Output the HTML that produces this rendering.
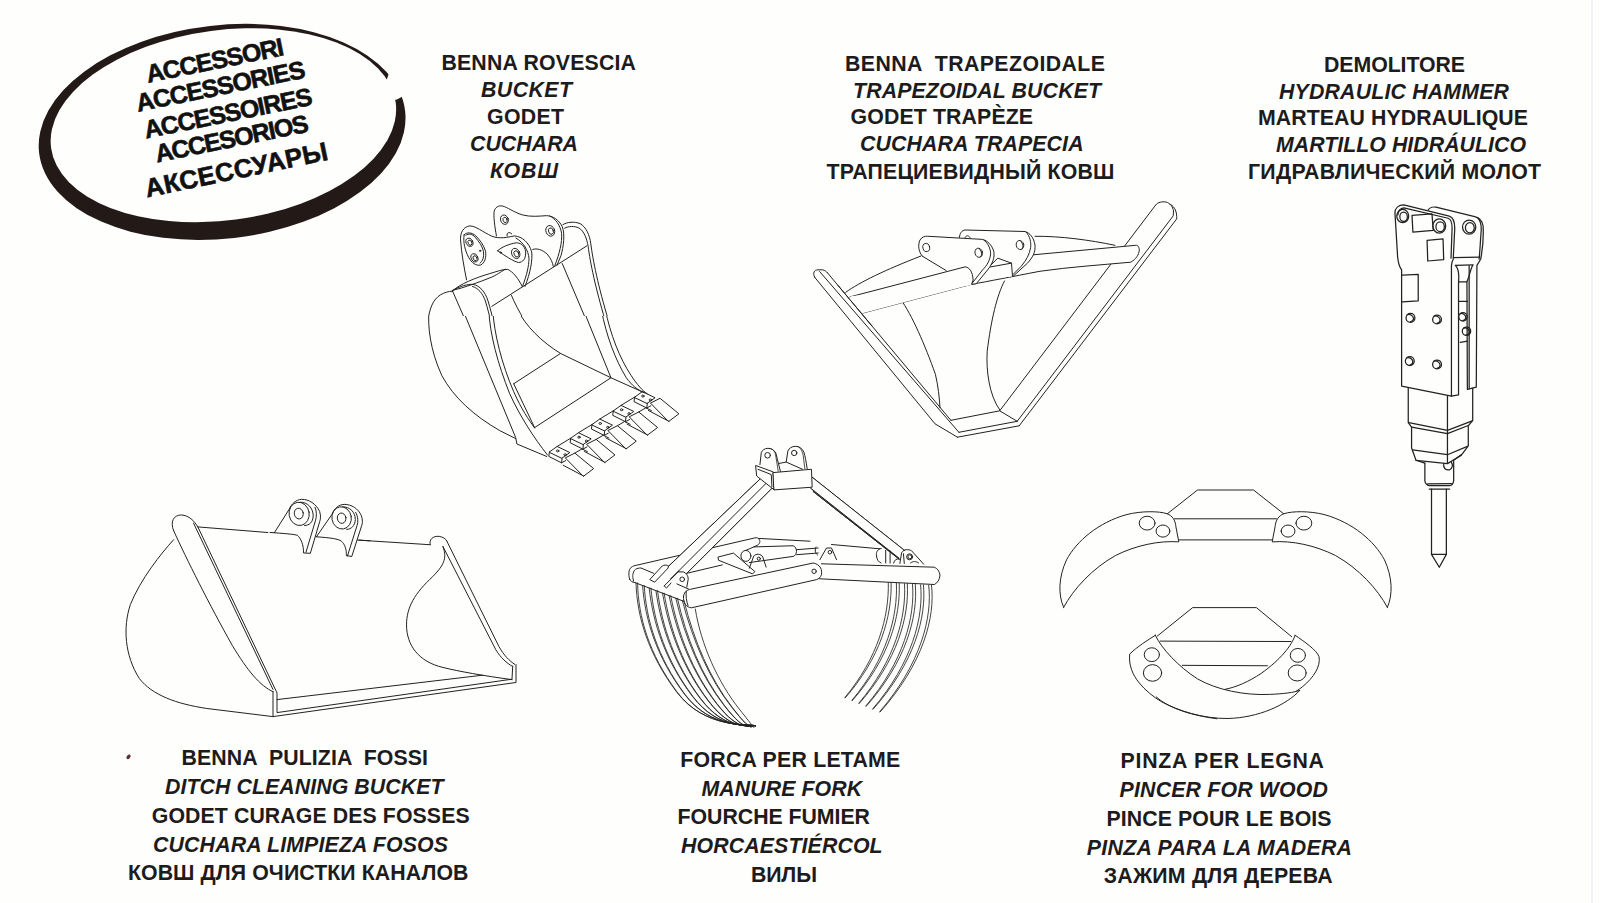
<!DOCTYPE html>
<html><head><meta charset="utf-8">
<style>
html,body{margin:0;padding:0;background:#fefefd;}
body{width:1600px;height:903px;overflow:hidden;position:relative;}
svg{position:absolute;left:0;top:0;}
.t text{white-space:pre;font-family:"Liberation Sans",sans-serif;font-weight:bold;font-size:21.3px;fill:#1d1b1b;text-anchor:middle;}
.d path,.d polyline,.d line,.d ellipse,.d circle,.d polygon{fill:none;stroke:#222;stroke-width:1.0;stroke-linejoin:round;stroke-linecap:round;vector-effect:non-scaling-stroke;}
.d .thin path{stroke-width:0.85;}
.d .thick path,.d .thick circle,.d .thick ellipse{stroke-width:1.25;}
</style></head><body>
<svg width="1600" height="903" viewBox="0 0 1600 903">
<defs><clipPath id="cTop"><rect x="0" y="0" width="1600" height="316"/></clipPath><clipPath id="cBot"><rect x="0" y="316" width="1600" height="600"/></clipPath><clipPath id="cHamTop"><rect x="1300" y="0" width="300" height="385"/></clipPath><clipPath id="cHamBot"><rect x="1300" y="385" width="300" height="400"/></clipPath></defs>
<!-- logo ellipse -->
<g id="logo">
<ellipse cx="222.1" cy="131.9" rx="184.2" ry="106.7" transform="rotate(-6.5 222.1 131.9)" fill="#231a17"/>
<ellipse cx="223.4" cy="125.2" rx="173.8" ry="95.1" transform="rotate(-7.5 223.4 125.2)" fill="#fefefd"/>
<polygon points="387,79 392,64 418,88 397,99.5 391,100.5 382,84" fill="#fefefd"/>
<g style="font-family:'Liberation Sans',sans-serif;font-weight:bold;font-size:25px;fill:#111;stroke:#111;stroke-width:0.6">
<text transform="translate(147.9,82.8) rotate(-11.5)" textLength="140">ACCESSORI</text>
<text transform="translate(138,111.7) rotate(-11.5)" textLength="172">ACCESSORIES</text>
<text transform="translate(146,138.6) rotate(-11.5)" textLength="171">ACCESSOIRES</text>
<text transform="translate(156.9,162.5) rotate(-11.5)" textLength="156">ACCESORIOS</text>
<text transform="translate(147,197.5) rotate(-11.8)" style="font-size:26px" textLength="186">АКСЕССУАРЫ</text>
</g>
</g>
<g class="t">
<text x="538.7" y="70.0" textLength="194.6">BENNA ROVESCIA</text>
<text x="526.5" y="97.0" font-style="italic" textLength="91.0">BUCKET</text>
<text x="525.5" y="124.0" textLength="77.0">GODET</text>
<text x="524.0" y="151.0" font-style="italic" textLength="108.0">CUCHARA</text>
<text x="524.0" y="178.0" font-style="italic" textLength="68.0">КОВШ</text>
<text x="975.0" y="71.0" textLength="260.0">BENNA  TRAPEZOIDALE</text>
<text x="977.0" y="98.0" font-style="italic" textLength="248.0">TRAPEZOIDAL BUCKET</text>
<text x="941.8" y="124.0" textLength="182.5">GODET TRAPÈZE</text>
<text x="971.8" y="151.0" font-style="italic" textLength="223.5">CUCHARA TRAPECIA</text>
<text x="970.5" y="179.0" textLength="288.0">ТРАПЕЦИЕВИДНЫЙ КОВШ</text>
<text x="1394.5" y="72.0" textLength="141.0">DEMOLITORE</text>
<text x="1394.0" y="99.0" font-style="italic" textLength="230.0">HYDRAULIC HAMMER</text>
<text x="1393.0" y="125.0" textLength="270.0">MARTEAU HYDRAULIQUE</text>
<text x="1401.0" y="152.0" font-style="italic" textLength="250.0">MARTILLO HIDRÁULICO</text>
<text x="1394.5" y="179.0" textLength="293.0">ГИДРАВЛИЧЕСКИЙ МОЛОТ</text>
<text x="304.7" y="765.0" textLength="246.6">BENNA  PULIZIA  FOSSI</text>
<text x="304.2" y="794.0" font-style="italic" textLength="278.5">DITCH CLEANING BUCKET</text>
<text x="310.7" y="823.0" textLength="317.9">GODET CURAGE DES FOSSES</text>
<text x="300.5" y="851.6" font-style="italic" textLength="295.0">CUCHARA LIMPIEZA FOSOS</text>
<text x="298.2" y="880.0" textLength="340.5">КОВШ ДЛЯ ОЧИСТКИ КАНАЛОВ</text>
<text x="790.3" y="766.6" textLength="220.0">FORCA PER LETAME</text>
<text x="781.8" y="795.8" font-style="italic" textLength="160.5">MANURE FORK</text>
<text x="773.8" y="824.2" textLength="192.4">FOURCHE FUMIER</text>
<text x="781.8" y="853.4" font-style="italic" textLength="201.6">HORCAESTIÉRCOL</text>
<text x="784.0" y="881.8" textLength="66.0">ВИЛЫ</text>
<text x="1222.3" y="768.0" textLength="203.4">PINZA PER LEGNA</text>
<text x="1223.8" y="797.2" font-style="italic" textLength="208.4">PINCER FOR WOOD</text>
<text x="1219.0" y="825.9" textLength="225.1">PINCE POUR LE BOIS</text>
<text x="1219.4" y="854.8" font-style="italic" textLength="265.2">PINZA PARA LA MADERA</text>
<text x="1218.2" y="883.4" textLength="228.9">ЗАЖИМ ДЛЯ ДЕРЕВА</text>
</g>
<ellipse cx="128.5" cy="756.8" rx="2.6" ry="1.7" transform="rotate(-50 128.5 756.8)" fill="#5a2f30"/>
<line x1="1592" y1="0" x2="1592" y2="903" stroke="#e4e6ee" stroke-width="1"/>
<g class="d" id="drawings">
<g id="bucket">
<g clip-path="url(#cTop)"><g transform="translate(420,200) scale(0.13294)">
<!-- back ear plate -->
<path d="M575,270 C562,200 552,120 558,85 C565,55 590,40 620,45 C660,55 700,90 770,112 C830,128 890,122 950,118 C1000,118 1045,150 1070,200 C1092,260 1080,350 1060,420 L1030,492"/>
<path d="M975,120 C1020,140 1055,190 1065,250 C1070,320 1050,400 1015,492"/>
<ellipse cx="635" cy="148" rx="29" ry="36" transform="rotate(-20 635 148)"/>
<ellipse cx="640" cy="150" rx="15" ry="21" transform="rotate(-20 640 150)"/>
<ellipse cx="980" cy="232" rx="33" ry="41" transform="rotate(-20 980 232)"/>
<ellipse cx="985" cy="234" rx="18" ry="25" transform="rotate(-20 985 234)"/>
<path d="M655,270 C650,245 670,235 690,255"/>
<!-- front ear plate -->
<path d="M350,600 C330,500 312,400 305,300 C302,240 330,200 375,195 C420,195 470,240 540,272 C600,295 660,280 710,270 C770,275 820,320 840,390 C848,450 830,550 790,650"/>
<path d="M722,286 C780,320 815,380 820,440 C818,500 805,560 772,648"/>
<path d="M332,262 C350,240 390,242 420,270 C450,300 480,340 493,385 C500,430 488,475 455,490 C420,495 390,475 365,430 C340,380 322,320 332,262 Z"/>
<path d="M345,265 C365,250 395,255 415,280 C445,315 472,350 478,390 C482,430 472,462 452,475"/>
<ellipse cx="372" cy="318" rx="25" ry="33" transform="rotate(-25 372 318)"/>
<ellipse cx="376" cy="321" rx="14" ry="20" transform="rotate(-25 376 321)"/>
<ellipse cx="410" cy="435" rx="25" ry="33" transform="rotate(-25 410 435)"/>
<ellipse cx="414" cy="438" rx="14" ry="20" transform="rotate(-25 414 438)"/>
<circle cx="452" cy="382" r="5"/>
<path d="M585,382 C610,355 670,330 725,322 C770,322 795,360 795,400 C795,440 775,470 740,470 C700,460 640,420 585,382 Z"/>
<ellipse cx="720" cy="402" rx="30" ry="40" transform="rotate(-25 720 402)"/>
<ellipse cx="725" cy="405" rx="17" ry="25" transform="rotate(-25 725 405)"/>
<circle cx="607" cy="395" r="5"/>
<!-- boss / top of left side -->
<path d="M240,688 C300,630 420,585 520,555 C580,538 620,520 660,522 C700,540 740,590 770,652"/>
<path d="M245,680 C330,660 440,620 540,580 C590,556 620,532 640,522"/>
<path d="M848,372 C880,360 920,375 955,405 C985,440 998,470 1003,500"/>
<path d="M540,800 L1255,345"/>
<path d="M1075,185 C1110,165 1160,160 1205,178 C1250,205 1275,260 1285,330 C1300,450 1340,650 1417,903"/>
<path d="M1088,212 C1120,195 1160,195 1195,210 C1235,235 1255,290 1265,350 C1280,470 1320,660 1392,903"/>
<path d="M1070,478 L1250,903"/>
<path d="M245,680 C300,650 360,630 400,635 C450,645 490,690 512,760 C530,820 542,870 550,903"/>
<path d="M395,650 C440,665 470,700 492,760 C510,820 522,870 530,903"/>
<path d="M245,685 L340,903"/>
<path d="M245,685 C180,690 120,720 90,790 C72,830 65,870 62,903"/>
<path d="M688,718 C710,770 745,840 785,903"/>
</g></g>
<g clip-path="url(#cBot)"><g transform="translate(420,310) scale(0.19934)">
<path d="M45,0 C38,80 50,200 110,330 C170,440 270,530 400,605 L480,645"/>
<path d="M215,0 L480,640 L486,672 L636,735"/>
<path d="M345,0 C350,120 390,270 450,420 C500,530 570,640 640,728"/>
<path d="M365,0 C372,120 410,270 470,410 C510,500 545,550 575,592"/>
<path d="M490,0 C530,80 610,160 705,218"/>
<path d="M470,370 L705,218 L958,340 L575,590"/>
<path d="M470,370 L575,590"/>
<path d="M820,0 L958,340 L1125,415"/>
<path d="M930,0 C955,120 1000,240 1060,330 C1090,375 1115,405 1140,420"/>
<path d="M910,0 C935,130 980,250 1035,340 C1065,380 1090,400 1120,412"/>
</g></g>
<g id="teeth">
<g id="tooth1"><g transform="translate(530,380) scale(0.11074)">
<path d="M175,650 L245,600 L360,655 L290,705 Z"/>
<path d="M175,650 L170,690 L285,748 L290,705 M285,748 L322,728"/>
<ellipse cx="250" cy="640" rx="11" ry="9"/>
<ellipse cx="318" cy="675" rx="11" ry="9"/>
<path d="M322,702 L405,660 L575,800 L485,868 Z"/>
<path d="M300,770 L485,868"/>
</g></g>
<g id="shank1"><g transform="translate(530,380) scale(0.11074)">
<path d="M245,600 L367,526"/>
<path d="M405,660 L470,622 L520,648"/>
</g></g>
<use href="#tooth1" transform="translate(21.3,-13.7)"/>
<use href="#tooth1" transform="translate(42.6,-27.4)"/>
<use href="#tooth1" transform="translate(63.9,-41.1)"/>
<use href="#tooth1" transform="translate(85.2,-54.8)"/>
<use href="#shank1" transform="translate(21.3,-13.7)"/>
<use href="#shank1" transform="translate(42.6,-27.4)"/>
<use href="#shank1" transform="translate(63.9,-41.1)"/>
</g>
</g>
<g id="ditch">
<g transform="translate(110,490) scale(0.25463)">
<path d="M250,195 C200,250 120,350 80,450 C50,540 58,650 115,740 C165,805 260,840 380,858 L640,890"/>
<path d="M250,160 C235,125 250,98 280,98 C310,100 330,120 345,145"/>
<path d="M250,160 C300,270 390,450 480,610 C540,710 590,770 640,792"/>
<path d="M328,130 L640,783"/>
<path d="M346,147 L655,795"/>
<path d="M345,145 L620,167"/>
</g>
<g transform="translate(280,490) scale(0.25458)">
<path d="M590,215 C585,195 600,180 625,182 C640,185 650,190 655,200"/>
<path d="M655,200 L860,615 C880,650 900,670 922,685"/>
<path d="M640,222 L848,628 C868,660 890,680 912,692"/>
<path d="M640,222 C655,262 650,290 600,340 C530,405 497,460 497,530 C497,610 545,675 640,697 C700,712 800,730 912,745"/>
</g>
<g transform="translate(270,495) scale(0.072)">
<path d="M60,525 L265,200 C300,120 360,65 440,60 C540,60 640,120 690,230 C710,300 700,340 690,370 L560,810 L465,805 C470,700 430,600 380,560 C340,545 200,535 0,520"/>
<path d="M625,170 C650,220 650,300 630,360 L500,795"/>
<ellipse cx="405" cy="262" rx="140" ry="162" transform="rotate(-10 405 262)"/>
<path d="M420,100 C520,95 600,180 600,290 C595,380 550,420 480,425"/>
<ellipse cx="400" cy="258" rx="62" ry="75" transform="rotate(-10 400 258)"/>
<path d="M645,580 L860,270 C890,190 950,135 1030,130 C1130,130 1230,190 1270,290 C1290,350 1285,390 1275,420 L1135,855 L1060,840 C1065,760 1040,680 990,640 C950,610 850,595 640,580"/>
<path d="M1190,240 C1225,300 1225,380 1210,420 L1075,850"/>
<ellipse cx="995" cy="318" rx="135" ry="155" transform="rotate(-10 995 318)"/>
<path d="M1010,165 C1110,160 1185,240 1185,340 C1180,430 1130,475 1065,478"/>
<ellipse cx="995" cy="322" rx="60" ry="72" transform="rotate(-10 995 322)"/>
<path d="M1215,625 L1389,636"/>
</g>
<g transform="translate(280,490) scale(0.25458)">
<path d="M310,197 L590,215"/>
</g>
<path d="M273,691.4 L273,716.6 L516,682.5 L516,664.6"/>
<path d="M277,693 L277,712.6 L512,679.2 L512.7,666"/>
<path d="M277,699.6 L482.6,675.2"/>
</g>
<g id="fork">
<path d="M766.2,473.2 L668.2,566.6"/>
<path d="M771.2,478.2 L671,578.6"/>
<path d="M772,488.2 L686.8,573.3"/>
<path d="M812.4,477.4 L904.6,550.5"/>
<path d="M810.7,488.2 L898.8,558"/>
<path d="M813.2,491.5 L899,559"/>
<path d="M629.7,579.3 C628,574 629,569 631,567.6 C633,566 634.5,565.5 636.3,565.3 L754.9,537.9 C757,537.5 758,538 758.3,538.4 L810,541.2"/>
<path d="M831.5,544.5 L879.7,548.8"/>
<path style="fill:#fefefd;stroke:none" d="M766.2,473.2 L772,488.2 L686.8,573.3 L668.2,566.6 Z"/>
<path style="fill:#fefefd;stroke:none" d="M812.4,477.4 L904.6,550.5 L898.8,558 L810.7,488.2 Z"/>
<path d="M766.2,473.2 L668.2,566.6"/>
<path d="M771.2,478.2 L671,578.6"/>
<path d="M772,488.2 L686.8,573.3"/>
<path d="M812.4,477.4 L904.6,550.5"/>
<path d="M810.7,488.2 L898.8,558"/>
<path d="M813.2,491.5 L899,559"/>
<g transform="translate(740,440) scale(0.06649)">
<path style="fill:#fefefd" d="M240,385 L500,480 L515,750 L255,545 Z"/>
<path d="M270,440 L470,520 L480,700"/>
<path d="M300,370 L320,190 C335,150 370,128 420,125 C470,125 515,150 540,200 L610,480"/>
<path d="M460,128 C500,140 525,175 535,220 L575,470" style="stroke-width:0.8"/>
<circle cx="415" cy="230" r="42"/>
<path d="M590,352 L695,332 L940,440"/>
<path d="M695,330 L720,165 C740,120 780,98 830,95 C890,95 935,125 960,180 C980,240 995,330 1010,430"/>
<path d="M880,100 C920,130 940,180 950,230 L975,430" style="stroke-width:0.8"/>
<circle cx="815" cy="195" r="40"/>
<path style="fill:#fefefd" d="M500,490 L1075,440 L1085,710 L515,750 Z"/>
</g>
<path d="M633.6,581.2 C632.5,577 632.6,575 633,573.9 C633.8,571 634.5,570 635.6,569.3 C637,568.3 639,568 641,568 L653.6,573.3"/>
<path d="M676.9,583.9 L688.8,589.2"/>
<path d="M629.7,579.3 C630.5,581 632,582.2 635,582.6 L683.5,601.2"/>
<path d="M650,579.3 L662.2,566 C664,565 666,565 667.6,565.3 C668.5,566 668.4,567 668.2,568 L654.9,581.9 Z"/>
<path d="M664.2,585.9 L678.2,571.9 L683.5,571.9 C685,572.5 686,573.5 686.8,574.6 C687.8,576 688.2,577.5 688.2,579.3 L686.8,587.2"/>
<path d="M664.2,585.9 L666.5,588 L671,583"/>
<circle cx="682.2" cy="579.3" r="2.3"/>
<path d="M686.8,573.3 L722.3,564.9"/>
<path d="M683.5,596.5 C684,593.5 685,592 686.2,591.2 C687.5,590 689,589.5 690.8,589.2 L813.2,563 C816,563.5 819,565 820.7,568 C821.5,570 821.8,572 821.5,574.6 C820.5,577.5 818.5,579 816.6,579.6 L691.5,607.8 C689,607.6 687,606.5 685.5,604.5 C684,602.5 683.3,599.5 683.5,596.5 Z"/>
<path d="M686.2,591.2 C685.8,596 686.3,601 688,605.5"/>
<circle cx="814.1" cy="571.3" r="2.2"/>
<path d="M821.4,563.8 L934.4,567.2 C937.5,568.5 939.5,571.5 940,575.1 C939.8,579.5 937.5,583 934.4,584.5 L819.5,578.8"/>
<path d="M718.3,557 L733.5,553.1 L754.9,571.6 L752.6,573.9 L718.9,560.4 Z"/>
<ellipse cx="745.9" cy="555.9" rx="5" ry="5.5"/>
<path d="M745.9,550.4 L753.8,546.9 L793.1,545.75 C795.5,546.5 796.5,549 796.5,551.4 C796.3,554 795,556 793.1,556.4 L749.3,562.6"/>
<path d="M796.6,549.7 L818.2,548 M796.6,554.7 L818.2,553"/>
<path d="M749.3,568.25 L753.8,555.9 C755,554.8 756.5,554.2 758.3,554.2 C760.5,554.5 762,555.5 762.8,557 L766.1,567.1"/>
<circle cx="758.8" cy="558.7" r="1.6"/>
<path d="M758.3,538.4 C760.5,540 760.5,543 757.8,545 L753.8,546.9"/>
<path d="M819.9,559.6 L826.5,548 L831.5,548 L836.5,559.6"/>
<circle cx="829.9" cy="552.2" r="1.8"/>
<path d="M816,547 C814.5,549.5 815,553 817.5,555"/>
<path d="M881.3,548.4 C877,549 876,553 876.5,556 C877,560 878.5,562 881,563 M885.7,550.2 L885.7,563 M890.1,551 L890.1,563 M893.7,563 C894.5,560 896,558.5 899.5,559"/>
<path d="M899.9,563.4 L901.6,552.8 C903,550.5 905,549.7 906.1,549.7 C908.5,549.5 910,550 911.4,550.6 L923.8,564.3 M903.4,553.7 L904.3,563.4 M910.5,563 C913,561 916,561 918.6,563"/>
<circle cx="909.6" cy="556.8" r="3"/>
<circle cx="909.9" cy="556.8" r="2"/>
<g class="thin">
<path d="M636.0,583.0 C636.9,616.5 648.2,654.1 676.5,691.8 S749.6,723.7 755.6,725.7"/>
<path d="M637.6,583.0 C638.1,616.5 649.0,654.1 676.9,691.8 S749.6,723.7 755.6,725.7"/>
<path d="M642.6,585.5 C644.9,620.0 656.9,657.6 684.4,694.1 S749.6,723.7 755.6,725.7"/>
<path d="M644.2,585.5 C646.1,620.0 657.7,657.6 684.8,694.1 S749.6,723.7 755.6,725.7"/>
<path d="M649.2,588.1 C652.9,623.5 665.6,661.2 692.4,696.3 S749.6,723.7 755.6,725.7"/>
<path d="M650.9,588.1 C654.1,623.5 666.4,661.2 692.8,696.3 S749.6,723.7 755.6,725.7"/>
<path d="M655.9,590.6 C660.9,627.1 674.3,664.7 700.3,698.6 S749.6,723.7 755.6,725.7"/>
<path d="M657.5,590.6 C662.1,627.1 675.1,664.7 700.7,698.6 S749.6,723.7 755.6,725.7"/>
<path d="M662.5,593.1 C669.0,630.6 683.0,668.2 708.2,700.9 S749.6,723.7 755.6,725.7"/>
<path d="M664.1,593.1 C670.2,630.6 683.8,668.2 708.6,700.9 S749.6,723.7 755.6,725.7"/>
<path d="M669.1,595.7 C677.0,634.1 691.8,671.8 716.2,703.2 S749.6,723.7 755.6,725.7"/>
<path d="M670.7,595.7 C678.2,634.1 692.6,671.8 716.6,703.2 S749.6,723.7 755.6,725.7"/>
<path d="M675.8,598.2 C685.0,637.7 700.5,675.3 724.1,705.5 S749.6,723.7 755.6,725.7"/>
<path d="M677.4,598.2 C686.2,637.7 701.3,675.3 724.5,705.5 S749.6,723.7 755.6,725.7"/>
<path d="M682.4,600.8 C693.0,641.2 709.2,678.9 732.1,707.7 S749.6,723.7 755.6,725.7"/>
<path d="M684.0,600.8 C694.2,641.2 710.0,678.9 732.5,707.7 S749.6,723.7 755.6,725.7"/>
<path d="M695.3,609.0 C701.0,644.7 717.9,682.4 740.0,710.0 S749.6,723.7 755.6,725.7"/>
<path d="M888.3,582.6 C889.2,616.5 877.9,657.9 845.0,697.4"/>
<path d="M891.1,582.6 C892.0,616.5 880.3,657.9 845.2,697.9"/>
<path d="M896.4,583.2 C897.9,616.5 886.6,659.0 852.0,700.2"/>
<path d="M899.2,583.2 C900.7,616.5 889.0,659.0 852.2,700.7"/>
<path d="M904.5,583.7 C906.5,616.5 895.2,660.2 858.9,703.1"/>
<path d="M907.3,583.7 C909.3,616.5 897.6,660.2 859.1,703.6"/>
<path d="M912.5,584.3 C915.2,616.5 903.9,661.3 865.9,705.9"/>
<path d="M915.3,584.3 C918.0,616.5 906.3,661.3 866.1,706.4"/>
<path d="M920.6,584.8 C923.8,616.5 912.5,662.5 872.8,708.8"/>
<path d="M923.4,584.8 C926.6,616.5 914.9,662.5 873.0,709.3"/>
<path d="M928.7,585.4 C932.5,616.5 921.2,663.6 879.8,711.6"/>
<path d="M931.5,585.4 C935.3,616.5 923.6,663.6 880.0,712.1"/>
</g>
</g>
<g id="hammer" class="thick">
<g clip-path="url(#cHamTop)"><g transform="translate(1385,195) scale(0.22148)">
<!-- rear plate -->
<path d="M195,68 C200,58 215,52 230,55 L405,98 C425,103 440,118 443,140 C446,200 440,250 432,290 L415,318 L412,903"/>
<path d="M420,105 C432,118 436,140 434,165 C430,220 428,260 425,290"/>
<ellipse cx="380" cy="145" rx="30" ry="32"/>
<ellipse cx="383" cy="148" rx="20" ry="23"/>
<path d="M308,283 L428,280"/>
<!-- slot -->
<path d="M318,318 C330,330 335,360 332,392 L332,903"/>
<path d="M395,318 C385,340 380,370 370,392 L372,903"/>
<path d="M318,318 L398,316"/>
<path d="M380,320 L380,903"/>
<path d="M332,392 L370,392"/>
<path d="M332,480 L372,480"/>
<path d="M340,665 L372,660"/>
<circle cx="352" cy="550" r="19"/>
<path d="M339,537 C347,531 363,539 365,552 C365,559 360,565 352,567"/>
<circle cx="368" cy="615" r="19"/>
<path d="M355,602 C363,596 379,604 381,617 C381,624 376,630 368,632"/>
<!-- front plate -->
<path style="fill:#fefefd" d="M45,82 C45,60 60,45 85,45 L290,95 C305,100 315,120 315,150 L308,290 C302,300 300,310 300,320 L300,903 L75,903 L75,338 C65,325 60,310 57,280 Z"/>
<path d="M58,90 C60,70 70,60 85,58 L285,105 C298,110 303,125 303,150 L298,285"/>
<ellipse cx="80" cy="95" rx="27" ry="30"/>
<ellipse cx="84" cy="98" rx="17" ry="21"/>
<ellipse cx="245" cy="140" rx="29" ry="32"/>
<ellipse cx="249" cy="143" rx="19" ry="22"/>
<path d="M122,92 L212,85 L218,160 L126,168 Z"/>
<path d="M190,205 L262,198 L265,292 L193,298 Z"/>
<path d="M78,362 L150,358 L150,478 L78,482"/>
<circle cx="115" cy="555" r="20"/>
<path d="M101,541 C110,535 127,543 129,557 C129,565 123,571 115,573"/>
<circle cx="235" cy="562" r="20"/>
<path d="M221,548 C230,542 247,550 249,564 C249,572 243,578 235,580"/>
<circle cx="112" cy="750" r="20"/>
<path d="M98,736 C107,730 124,738 126,752 C126,760 120,766 112,768"/>
<circle cx="235" cy="765" r="20"/>
<path d="M221,751 C230,745 247,753 249,767 C249,775 243,781 235,783"/>
</g></g>
<g clip-path="url(#cHamBot)"><g transform="translate(1385,375) scale(0.22148)">
<path d="M75,-100 L75,50 L300,95 L300,-100"/>
<path d="M332,-100 L332,90 L300,95"/>
<path d="M372,-100 L372,65 L412,55 L412,-100"/>
<path d="M380,-100 L380,62"/>
<path d="M105,57 L105,215 L120,235 L120,330 L140,385 L180,398"/>
<path d="M396,60 L396,205 L376,230 L376,320 L350,355 L310,385"/>
<path d="M282,95 L282,398"/>
<path d="M108,215 L282,250 L394,207"/>
<path d="M120,235 L282,265 L376,228"/>
<path d="M125,338 L282,360 L372,322"/>
<path d="M140,385 L282,400 L345,362"/>
<path d="M180,398 L180,478 C182,490 190,498 200,500 L292,500 C302,498 308,490 310,478 L310,390"/>
<path d="M265,400 C262,420 275,432 292,428 C305,422 308,405 300,395"/>
<path d="M192,492 L300,490"/>
<path d="M200,515 L292,515"/>
<path d="M210,515 L210,810 L245,868 L277,810 L277,515"/>
<path d="M210,810 L277,810"/>
</g></g>
</g>
<g id="pincer">
<g id="jawL"><g transform="translate(1055,485) scale(0.14395)">
<path d="M60,850 C20,760 25,640 80,520 C150,390 300,260 500,205 C600,180 720,180 780,200 C815,215 835,240 840,290 L860,395 C720,385 560,420 420,490 C260,580 130,720 60,850 Z"/>
<ellipse cx="640" cy="265" rx="55" ry="48"/>
<ellipse cx="750" cy="320" rx="48" ry="42"/>
</g></g>
<use href="#jawL" transform="translate(2451,0) scale(-1,1)"/>
<path d="M1167.3,513.8 L1197.5,490 L1253.5,490 L1283.7,513.8"/>
<path d="M1174.5,518.8 L1276.5,518.8"/>
<path d="M1178.8,539.9 L1272.2,539.9"/>
<g transform="translate(1120,600) scale(0.13843)">
<path d="M270,260 L525,55 L985,55 L1240,265"/>
<path d="M290,297 L1235,300"/>
<path d="M450,472 L1065,475"/>
<!-- right jaw -->
<path d="M1265,255 C1330,300 1420,360 1438,410 C1450,480 1400,560 1320,625 C1200,720 1000,800 780,840"/>
<path d="M1265,255 C1240,330 1160,430 1020,530 C930,590 840,630 760,645"/>
<ellipse cx="1285" cy="400" rx="55" ry="50"/>
<ellipse cx="1280" cy="527" rx="65" ry="58"/>
<!-- left jaw (front) -->
<path style="fill:#fefefd" d="M255,255 C300,350 420,480 560,570 C700,650 900,690 1080,682 C1180,678 1260,668 1300,652 C1200,760 1000,850 780,856 C600,858 420,800 300,735 C240,700 180,650 140,600 C90,540 62,470 70,390 C120,340 200,290 255,255 Z"/>
<ellipse cx="230" cy="395" rx="55" ry="50"/>
<ellipse cx="235" cy="527" rx="66" ry="60"/>
<path d="M262,700 C340,770 480,828 700,858"/>
</g>
</g>
<g id="trap">
<!-- left arm -->
<path d="M814.7,277.3 C812.5,273 814,270 818,269.8 L822.5,269.8 C825,270.5 826.5,271.5 827.1,272.4"/>
<path d="M814.7,277.3 L935,423.8 L957.4,437.2"/>
<path d="M819.6,271.5 L958.9,432.3"/>
<path d="M827.1,272.4 L950.9,420.3"/>
<!-- bottom -->
<path d="M950.9,420.3 L999.7,410.8 L1017.2,421.3"/>
<path d="M958.9,432.3 L1017.2,421.3"/>
<path d="M957.4,437.2 L1019.2,425.8"/>
<!-- right arm -->
<path d="M999.7,410.8 L1155.7,205 C1158,202 1162,201.5 1166,202 C1170,203 1173,207 1173.5,211 L1173.2,215.9 L1017.2,421.3"/>
<path d="M1170.7,204.5 C1175,207 1177,212 1176.7,218.9 L1019.2,425.8"/>
<!-- inner curves -->
<path d="M900.8,299.5 C912,315 925,345 935.4,374.3 C938,385 939.5,398 940,407.8"/>
<path d="M1004.5,281 C997,295 991,320 987.2,351.3 C986,370 989,395 999.7,409.8"/>
<!-- bars -->
<path d="M845.7,292.3 C860,282 885,270 921,256"/>
<path d="M1035,236.3 C1060,236 1090,240 1114.9,245.3"/>
<path style="fill:#fefefd;stroke:none" d="M850.2,298.1 L965,266.9 L1033.3,254.8 L1135.8,245.3 C1137,245 1139,246 1139.3,249.8 C1139,255 1136,259 1130.8,262.2 C1100,265 1070,267 1040,271.25 C1010,277 990,281 971.25,284.4 L862.6,313.1 Z"/>
<path d="M1033.3,254.8 L1135.8,245.3 C1137,245 1139,246 1139.3,249.8 C1139,255 1136,259 1130.8,262.2 C1100,265 1070,267 1040,271.25 C1010,277 990,281 971.25,284.4 L862.6,313.1"/>
</g>
<g transform="translate(840,220) scale(0.125)">
<path style="fill:#fefefd;stroke:none" d="M955,140 C960,100 975,85 1000,80 L1480,92 C1520,105 1550,140 1560,200 C1565,260 1540,300 1500,345 L1385,450 L1290,460 L1000,330 Z"/>
<path d="M955,140 C960,100 975,85 1000,80 L1480,92 C1520,105 1550,140 1560,200 C1565,260 1540,300 1500,345 L1385,450"/>
<path d="M1490,98 C1520,130 1530,180 1525,220 C1515,280 1490,320 1450,370 L1365,455"/>
<ellipse cx="1440" cy="200" rx="30" ry="37" transform="rotate(-15 1440 200)"/>
<path d="M1448,172 C1465,190 1468,218 1455,232"/>
<path d="M1000,140 C1010,120 1030,122 1040,140"/>
<path style="fill:#fefefd;stroke:none" d="M1190,378 L1262,305 L1372,345 L1380,450 L1290,462 Z"/>
<path d="M1190,378 L1262,305 L1372,345 L1380,450 M1190,378 L1372,345"/>
<path style="fill:#fefefd;stroke:none" d="M660,290 C630,260 620,200 640,160 C655,135 680,128 700,130 L1140,155 C1180,165 1215,200 1230,250 C1240,300 1220,350 1180,400 L1090,510 L1050,515 L850,560 L850,405 Z"/>
<path d="M660,290 C630,260 620,200 640,160 C655,135 680,128 700,130 L1140,155 C1180,165 1215,200 1230,250 C1240,300 1220,350 1180,400 L1090,510 L1050,515"/>
<path d="M660,290 L850,405"/>
<path d="M1150,160 C1185,185 1205,230 1205,270 C1200,320 1180,360 1140,400 L1050,515"/>
<ellipse cx="690" cy="220" rx="27" ry="33" transform="rotate(-15 690 220)"/>
<ellipse cx="1110" cy="262" rx="30" ry="37" transform="rotate(-15 1110 262)"/>
<path d="M1118,235 C1135,250 1138,280 1125,295"/>
<path style="fill:#fefefd;stroke:none" d="M80,615 L1000,375 C1035,378 1060,410 1065,480 L1052,515 L180,745 Z"/>
<path d="M80,615 L1000,375 C1035,378 1060,410 1065,480 L1052,515"/>
<path style="stroke:none;fill:#fefefd" d="M75,640 L1052,520 L1045,505 L85,610 Z"/>

</g>
<path d="M838,285.4 L872,326"/>

</g>
</svg>
</body></html>
